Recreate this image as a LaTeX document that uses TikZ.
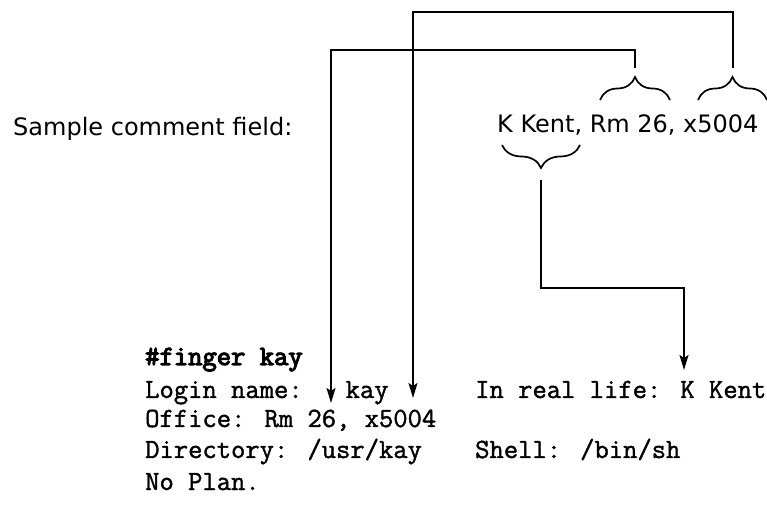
\documentclass[tikz,border=0pt]{standalone}
\usepackage{fontspec}
\newfontfamily\commentfont{DejaVu Sans}
\newfontfamily\termfont{Latin Modern Mono}[FakeBold=1.4]
\newfontfamily\termheadfont{Latin Modern Mono}[FakeBold=4]
\usepackage{tikz}
\usetikzlibrary{arrows.meta, decorations.pathreplacing, calc}

\tikzset{
  sanstext/.style={font=\commentfont\fontsize{24}{28}\selectfont, anchor=base west, inner sep=0pt},
  termtext/.style={font=\termfont\fontsize{27.8}{31}\selectfont, anchor=base west, inner sep=0pt},
  termbold/.style={termtext, font=\termheadfont\fontsize{27.8}{31}\selectfont},
  curly/.style={line width=1.7pt, decorate, decoration={brace, amplitude=23pt}},
  pointer/.style={line width=1.8pt, -{Stealth[length=15pt,width=9pt,inset=3pt]}}
}

\begin{document}
\begin{tikzpicture}[x=1pt,y=1pt]
  \useasboundingbox (0,0) rectangle (767,508);

  % Comment field line
  \node[sanstext] (sample) at (13,372) {Sample comment field:};
  \node[sanstext] (comment) at (497,375) {K Kent, Rm 26, x5004};

  % Braces over / under the field parts
  \draw[curly] (600,408) -- (670,408);
  \draw[curly] (698,408) -- (767,408);
  \draw[curly] (580,363) -- (502,363);
  \coordinate (rmtip) at (635,440);
  \coordinate (xtip) at (733,440);
  \coordinate (kenttip) at (541,328);

  % Output of finger
  \node[termbold] (cmd) at (145,143) {\#finger kay};
  \node[termtext] (login) at (145,110) {Login name:\ \ \ kay};
  \node[termtext] (office) at (145,81) {Office: Rm 26, x5004};
  \node[termtext] (dir) at (145,50) {Directory: /usr/kay};
  \node[termtext] (plan) at (145,18) {No Plan.};
  \node[termtext] (real) at (475,110) {In real life: K Kent};
  \node[termtext] (shell) at (475,50) {Shell: /bin/sh};

  % Arrow ends
  \coordinate (loginA) at (331,105);
  \coordinate (loginB) at (413,110);
  \coordinate (realA) at (684,138);

  % Connectors
  \draw[pointer] (rmtip) -- ++(0,18) -| (loginA);
  \draw[pointer] (xtip) -- ++(0,56) -| (loginB);
  \draw[pointer] (kenttip) -- ++(0,-108) -| (realA);
\end{tikzpicture}
\end{document}
